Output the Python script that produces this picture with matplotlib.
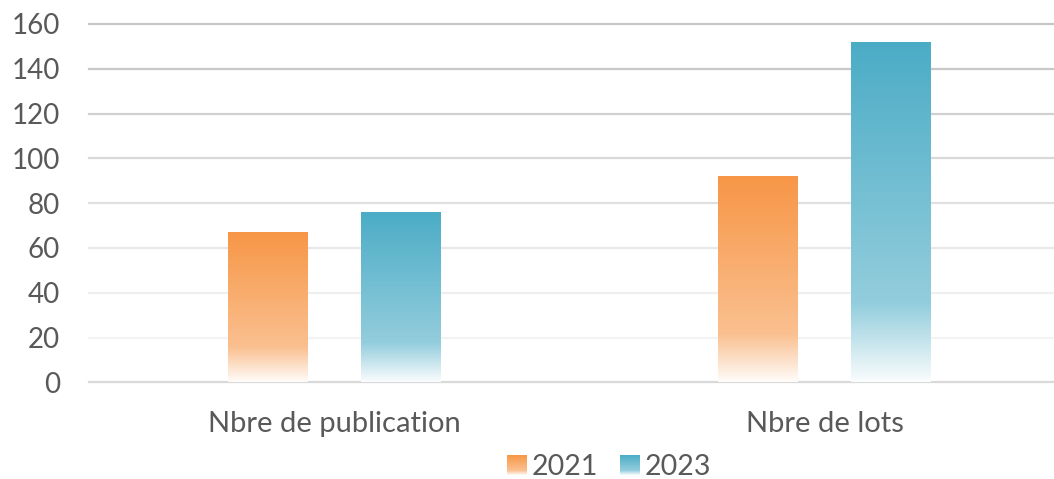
import numpy as np
import matplotlib
matplotlib.use("Agg")
import matplotlib.pyplot as plt
from matplotlib.colors import to_rgb
from matplotlib.patches import Rectangle
from matplotlib.legend_handler import HandlerBase

categories = ["Nbre de publication", "Nbre de lots"]
series_names = ["2021", "2023"]
values_2021 = [67, 92]
values_2023 = [76, 152]
y_ticks = [0, 20, 40, 60, 80, 100, 120, 140, 160]

colors = ["#F79646", "#4BACC6"]
text_color = "#595959"
plt.rcParams["font.family"] = ["Lato", "DejaVu Sans"]

W, H, DPI = 1054, 479, 100
fig = plt.figure(figsize=(W / DPI, H / DPI), dpi=DPI)
ax = fig.add_axes([89 / W, (H - 382.3) / H, 981 / W, 358.3 / H])
ax.set_xlim(-0.5, 1.5)
ax.set_ylim(0, 160)


def alpha_profile(t):
    # t: 0 at bottom, 1 at top
    return np.interp(t, [0.0, 0.23, 1.0], [0.03, 0.6, 1.0])


def gradient_rgba(color, n=256):
    t = np.linspace(0, 1, n)[:, None]
    a = alpha_profile(t)
    rgb = np.array(to_rgb(color))[None, None, :]
    img = 1 - a[..., None] * (1 - rgb)
    img = np.repeat(img, 2, axis=1)
    return img


bar_w = 0.163
offsets = [-0.136, 0.136]
x = np.arange(len(categories))
for vals, off, col in zip([values_2021, values_2023], offsets, colors):
    bars = ax.bar(x + off, vals, width=bar_w, color="none", edgecolor="none", zorder=3)
    for b in bars:
        x0, y0 = b.get_x(), b.get_y()
        w, h = b.get_width(), b.get_height()
        img = gradient_rgba(col)
        im = ax.imshow(img, extent=(x0, x0 + w, y0, y0 + h), origin="lower",
                       aspect="auto", zorder=3, interpolation="bilinear")
        im.set_clip_path(b)

ax.set_xlim(-0.5, 1.5)
ax.set_ylim(0, 160)

grid_cols = ["#d9d9d9", "#f3f3f3", "#efefef", "#e8e8e8", "#e0e0e0",
             "#d8d8d8", "#d0d0d0", "#c8c8c8", "#c6c6c6"]
for yv, gc in zip(y_ticks, grid_cols):
    ax.axhline(yv, color=gc, lw=1.6, zorder=1, clip_on=False)

for s in ax.spines.values():
    s.set_visible(False)
ax.set_yticks(y_ticks)
ax.set_yticklabels([str(v) for v in y_ticks])
ax.set_xticks(x)
ax.set_xticklabels(categories)
ax.tick_params(axis="y", length=0, pad=21, labelsize=20, labelcolor=text_color)
ax.tick_params(axis="x", length=0, pad=21, labelsize=21, labelcolor=text_color)


class GradHandler(HandlerBase):
    def __init__(self, color):
        super().__init__()
        self.color = color

    def create_artists(self, legend, orig_handle, xdescent, ydescent, width,
                       height, fontsize, trans):
        n = 20
        arts = []
        size = min(width, height)
        x0 = -xdescent + (width - size) / 2
        y0 = -ydescent + (height - size) / 2
        rgb = np.array(to_rgb(self.color))
        for i in range(n):
            t = (i + 0.5) / n
            a = alpha_profile(t)
            c = 1 - a * (1 - rgb)
            r = Rectangle((x0, y0 + size * i / n), size, size / n + 0.3,
                          facecolor=c, edgecolor="none", transform=trans)
            arts.append(r)
        return arts


handles = [Rectangle((0, 0), 1, 1) for _ in series_names]
leg = fig.legend(handles, series_names, loc="center", bbox_to_anchor=(609 / W, (H - 467) / H),
                 ncol=2, frameon=False, fontsize=20.5, handlelength=0.7, handleheight=0.7,
                 handletextpad=0.15, columnspacing=0.8,
                 handler_map={handles[0]: GradHandler(colors[0]), handles[1]: GradHandler(colors[1])})
for t in leg.get_texts():
    t.set_color(text_color)

fig.savefig("out.png", dpi=DPI)
